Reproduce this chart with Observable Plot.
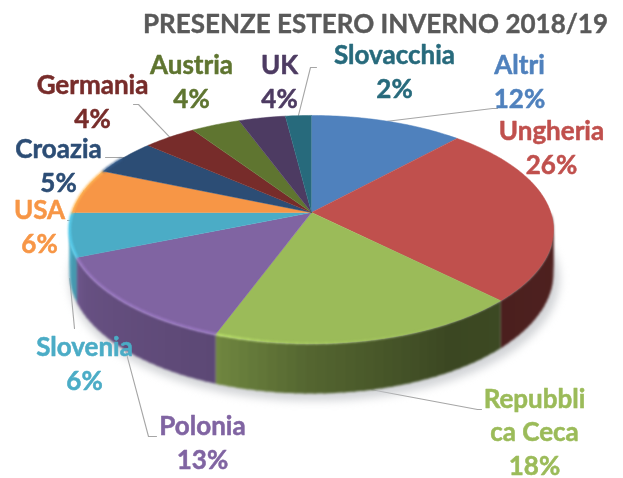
<!DOCTYPE html>
<html><head><meta charset="utf-8">
<style>html,body{margin:0;padding:0;background:#fff}svg{display:block}</style>
<script src="https://cdn.jsdelivr.net/npm/d3@7"></script>
<script src="https://cdn.jsdelivr.net/npm/@observablehq/plot@0.6"></script>
</head><body>
<script>
const chartTitle = "PRESENZE ESTERO INVERNO 2018/19";
const categories = ["Altri","Ungheria","Repubblica Ceca","Polonia","Slovenia","USA","Croazia","Germania","Austria","UK","Slovacchia"];
const wrappedNames = ["Altri","Ungheria","Repubbli\nca Ceca","Polonia","Slovenia","USA","Croazia","Germania","Austria","UK","Slovacchia"];
const shares = [11.8,25.7,18.1,13.2,6.2,6.4,5.1,4.1,3.8,3.6,2.0];
const palette = ["#4f81bd","#c0504d","#9bbb59","#8064a2","#4bacc6","#f79646","#2c4d75","#772c2a","#5f7530","#4d3b62","#276a7c"];

// layout of annotations, in the frame of the picture
const labelCentres = [[519,80],[551,146],[534,430],[202,441],[84,362],[39,225],[58,164],[92,100],[191,80],[279,80],[394,70]];
const leaderBends = [[[492,108],[497,108]],null,[[477,409],[481,409]],[[148,436],[156,436]],[[74,328]],[[72,220],[67,220]],[[105,157]],[[138,104],[133,104]],null,null,[[310,67],[316,67]]];

// tilted disc seen in perspective
const cx = 311, cy = 212, A = 239.3, B = 111.5, k = 0.149, D = 42.6;
const rad = t => t * Math.PI / 180;
const project = (t, lift = 0) => {
  const u = Math.sin(rad(t)), v = Math.cos(rad(t)), w = 1 + k * v;
  return [cx + A * u / w, cy - B * v / w + lift * D / w];
};

let acc = 0;
const slices = categories.map((name, i) => {
  const t0 = acc * 3.6; acc += shares[i]; const t1 = acc * 3.6;
  return {name, i, t0, t1, mid: (t0 + t1) / 2, pct: Math.round(shares[i])};
});

const topPts = slices.flatMap(s => {
  const n = Math.max(2, Math.ceil(s.t1 - s.t0));
  const arc = d3.range(n + 1).map(j => project(s.t0 + (s.t1 - s.t0) * j / n));
  return [[cx, cy], ...arc].map(([x, y]) => ({x, y, name: s.name}));
});

const wallShade = d3.scaleLinear([90,150,180,200,240,262,270],[.42,.38,.54,.72,.8,.96,1.05]).clamp(true);
const wallPts = [];
let quad = 0;
slices.forEach(s => {
  const a = Math.max(s.t0, 90), b = Math.min(s.t1, 270);
  if (a >= b) return;
  for (let t = a; t < b; t += 2) {
    const e = Math.min(t + 2.6, b);
    const shade = d3.rgb(palette[s.i]);
    const g = wallShade(t + 1);
    const col = d3.rgb(shade.r * g, shade.g * g, shade.b * g).formatHex();
    [project(t, 0), project(e, 0), project(e, 1), project(t, 1)].forEach(([x, y]) =>
      wallPts.push({x, y, q: quad, col}));
    quad++;
  }
});

const rimGlow = d3.scaleLinear([140,185,200,262,270],[0,.35,.85,.85,.85]).clamp(true);
const rimPts = [];
slices.forEach(s => {
  for (let t = Math.max(s.t0, 120); t < Math.min(s.t1, 300); t += 2) {
    const e = Math.min(t + 2, s.t1);
    const c = d3.rgb(palette[s.i]).brighter(.55).formatHex();
    const q = `${s.i}-${t}`, o = rimGlow(t);
    rimPts.push({x: project(t)[0], y: project(t)[1], q, c, o},
                {x: project(e)[0], y: project(e)[1], q, c, o});
  }
});

const shadowPts = d3.range(80, 282, 2).map(t => {
  const [x, y] = project(t, 1.1);
  return {x: x + (x > cx ? 6 : 0), y: y + 2};
});

const leaders = slices.flatMap(s => {
  const bends = leaderBends[s.i];
  if (!bends) return [];
  const front = s.mid > 90 && s.mid < 270;
  const [x0, y0] = project(s.mid, front ? 1 : 0);
  return [[x0, y0], ...bends].map(([x, y]) => ({x, y, name: s.name}));
});

const labels = slices.map(s => ({
  name: s.name,
  x: labelCentres[s.i][0],
  y: labelCentres[s.i][1],
  text: `${wrappedNames[s.i]}\n${s.pct}%`
}));

const font = "Lato, Carlito, Calibri, sans-serif";
document.body.append(Plot.plot({
  width: 623, height: 478, margin: 0,
  x: {domain: [0, 623], range: [0, 623], axis: null},
  y: {domain: [0, 478], range: [0, 478], axis: null},
  color: {type: "categorical", domain: categories, range: palette},
  style: {background: "#fff", fontFamily: font},
  marks: [
    Plot.line(leaders, {x: "x", y: "y", z: "name", stroke: "#a6a6a6", strokeWidth: 1.1}),
    Plot.line(shadowPts, {x: "x", y: "y", fill: "#bfc2c6", stroke: "none", fillOpacity: .7, imageFilter: "blur(4px)"}),
    Plot.line(wallPts, {x: "x", y: "y", z: "q", fill: {value: "col", scale: null}, stroke: "none", imageFilter: "blur(1px)"}),
    Plot.line(topPts, {x: "x", y: "y", z: "name", fill: "name", stroke: "name", strokeWidth: .5, strokeLinejoin: "round", imageFilter: "blur(.3px)"}),
    Plot.line(rimPts, {x: "x", y: "y", z: "q", stroke: {value: "c", scale: null}, strokeOpacity: "o", strokeWidth: 2.5, imageFilter: "blur(1px)"}),
    Plot.text(labels, {x: "x", y: "y", text: "text", fill: "name", stroke: "name", strokeWidth: .5, fontSize: 26, fontWeight: 700, lineHeight: 1.29, lineAnchor: "middle", textAnchor: "middle", imageFilter: "blur(.3px)"}),
    Plot.text([chartTitle], {x: () => 375, y: () => 24, text: d => d, fill: "#595959", stroke: "#595959", strokeWidth: .4, fontSize: 26, fontWeight: 700, textAnchor: "middle", lineAnchor: "middle", imageFilter: "blur(.3px)"})
  ]
}));
</script>
</body></html>
